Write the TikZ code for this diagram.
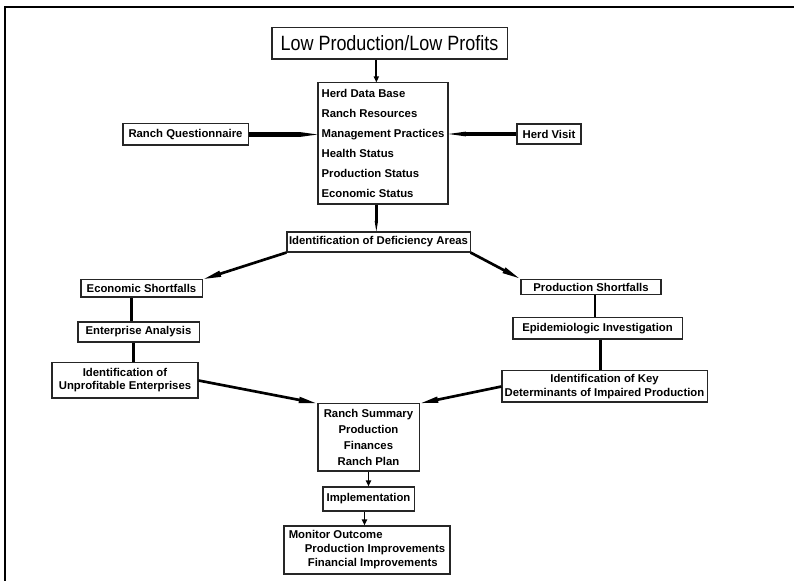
\documentclass[tikz,border=0pt]{standalone}
\usepackage{fontspec}
\setmainfont{Liberation Sans}
\newfontfamily\titlefont[FakeStretch=0.87]{Liberation Sans}
\usetikzlibrary{arrows.meta}

\begin{document}
\begin{tikzpicture}[
      x=0.75pt, y=-0.75pt,
      box/.style={rectangle, draw=black!85, line width=0.8pt, inner sep=0pt, align=center, font=\bfseries\fontsize{8.5}{10}\selectfont},
      topbox/.style={box, font=\titlefont\fontsize{15.5}{18}\selectfont},
      feed/.style={line width=3.2pt, -{Triangle[length=13pt, width=3.6pt, line width=0pt]}},
      flow/.style={line width=2pt, -{Triangle[length=14pt, width=4.2pt]}},
      link/.style={line width=2.2pt},
      drop/.style={line width=1.3pt, -{Triangle[length=4.5pt, width=3.8pt]}}
    ]
    \useasboundingbox (0,0) rectangle (794,581);
    \draw[line width=1.5pt] (5,581) -- (5,7) -- (794,7);

    \node[topbox, minimum width=176.3pt, minimum height=23.3pt] (title) at (389.5,43.5) {Low Production/Low Profits};

    \node[box, align=left, minimum width=97.5pt, minimum height=90.8pt, font=\bfseries\fontsize{8.5}{15}\selectfont] (data) at (383,143.5)
      {Herd Data Base \\ Ranch Resources \\ Management Practices \\ Health Status \\ Production Status \\ Economic Status};
    \node[box, minimum width=93.8pt, minimum height=15.8pt] (quest) at (185.5,134.5) {Ranch Questionnaire};
    \node[box, minimum width=48pt, minimum height=15pt] (visit) at (549,134) {Herd Visit};

    \node[box, minimum width=137.3pt, minimum height=15pt] (defic) at (378.5,242) {Identification of Deficiency Areas};

    \node[box, minimum width=90.8pt, minimum height=12.8pt] (econ) at (141.5,288.5) {Economic Shortfalls};
    \node[box, minimum width=90.8pt, minimum height=15pt] (enter) at (138.5,332) {Enterprise Analysis};
    \node[box, minimum width=109.5pt, minimum height=26.3pt, font=\bfseries\fontsize{8.5}{9.8}\selectfont] (unprof) at (125,380.5) {Identification of \\ Unprofitable Enterprises};

    \node[box, minimum width=105pt, minimum height=11.3pt] (prod) at (591,287) {Production Shortfalls};
    \node[box, minimum width=126.8pt, minimum height=15.8pt] (epid) at (597.5,328.5) {Epidemiologic Investigation};
    \node[box, minimum width=153.8pt, minimum height=23.3pt, font=\bfseries\fontsize{8.5}{11}\selectfont] (key) at (604.5,386.5) {Identification of Key \\ Determinants of Impaired Production};

    \node[box, minimum width=75.8pt, minimum height=50.3pt, font=\bfseries\fontsize{8.5}{12.2}\selectfont] (summ) at (368.5,437.5) {Ranch Summary \\ Production \\ Finances \\ Ranch Plan};
    \node[box, minimum width=68.3pt, minimum height=18pt] (impl) at (368.5,499) {Implementation};
    \node[box, align=left, minimum width=124.5pt, minimum height=36pt, font=\bfseries\fontsize{8.5}{10.5}\selectfont] (monit) at (367,550)
      {Monitor Outcome \\ \hspace*{12pt}Production Improvements \\ \hspace*{14.3pt}Financial Improvements};

    \draw[drop, line width=1.5pt] ([xshift=-5pt]data.north |- title.south) -- ([xshift=-5pt]data.north);
    \draw[feed] (quest.east) -- (quest.east -| data.west);
    \draw[feed] (visit.west) -- (visit.west -| data.east);
    \draw[link, -{Triangle[length=8pt, width=2.6pt, line width=0pt]}] ([xshift=-5pt]data.south) -- ([xshift=-5pt]data.south |- defic.north);

    \draw[flow] (defic.south west) -- (econ.north east);
    \draw[flow] (defic.south east) -- (prod.north west);

    \draw[link] ([xshift=-7.5pt]econ.south) -- ([xshift=-7.5pt]econ.south |- enter.north);
    \draw[link] ([xshift=-4pt]enter.south) -- ([xshift=-4pt]enter.south |- unprof.north);
    \draw[link] ([xshift=3pt]prod.south) -- ([xshift=3pt]prod.south |- epid.north);
    \draw[link] ([xshift=2pt]epid.south) -- ([xshift=2pt]epid.south |- key.north);

    \draw[flow] (unprof.east) -- (summ.north west);
    \draw[flow] (key.west) -- (summ.north east);

    \draw[drop] (summ.south) -- (impl.north);
    \draw[drop] ([xshift=-3pt]impl.south) -- ([xshift=-3pt]impl.south |- monit.north);

  \end{tikzpicture}
\end{document}
